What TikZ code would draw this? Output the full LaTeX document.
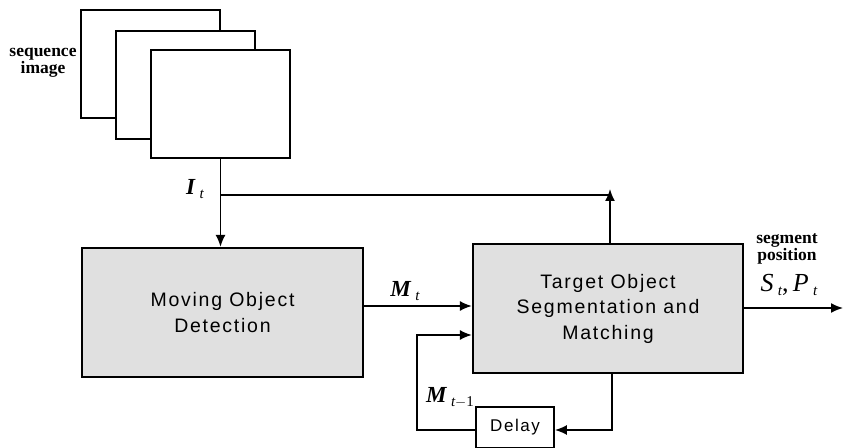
\documentclass[tikz,border=0pt]{standalone}
\usepackage{fontspec}
\setmainfont{Liberation Serif}
\newfontfamily\boxfont[LetterSpace=9]{Liberation Sans}
\usetikzlibrary{arrows.meta}
\tikzset{
  frame/.style={draw, line width=2bp, fill=white, minimum width=139bp, minimum height=108bp, inner sep=0pt},
  block/.style={draw, line width=2.2bp, fill=black!12, inner sep=0pt, align=center,
                font=\boxfont\fontsize{19.5bp}{25.5bp}\selectfont},
  delaybox/.style={draw, line width=1.8bp, fill=white, inner sep=0pt,
                   minimum width=78bp, minimum height=41bp,
                   font=\boxfont\fontsize{17bp}{18bp}\selectfont},
  wire/.style={line width=1.7bp},
  arr/.style={wire, -{Latex[length=12bp, width=10bp]}},
  note/.style={inner sep=0pt, align=center, font=\bfseries\fontsize{17.5bp}{17bp}\selectfont},
  sym/.style={inner sep=0pt, font=\fontsize{23bp}{24bp}\selectfont}
}
\newcommand{\sub}[1]{\,\raisebox{-4bp}{\fontsize{15bp}{16bp}\selectfont\itshape #1}}
\begin{document}
\begin{tikzpicture}[x=1bp, y=-1bp]
  \useasboundingbox (0,0) rectangle (844,448);

  % stack of input frames
  \node[frame] (f1) at (150.5,64.5) {};
  \node[frame] (f2) at (185.5,85) {};
  \node[frame] (f3) at (220.5,104.5) {};
  \node[note] (seq) at (43,63) {sequence\\image};

  % processing blocks
  \node[block, minimum width=281bp, minimum height=129bp] (mod) at (222.5,312.5)
    {Moving Object\\Detection};
  \node[block, minimum width=270bp, minimum height=129bp] (tom) at (608,308.5)
    {Target Object\\Segmentation and\\Matching};

  % helper points of the connectors
  \coordinate (up) at (610,195);
  \coordinate (mt) at (0,306);
  \coordinate (fb) at (612,430);
  \coordinate (fl) at (417,335);
  \coordinate (out) at (843,308);

  % labels
  \node[sym] (it) at (195,189) {\textbf{\textit{I}}\sub{t}};
  \node[sym] (mtl) at (405,291) {\textbf{\textit{M}}\sub{t}};
  \node[sym] (mt1) at (450,398) {\textbf{\textit{M}}\sub{t}\raisebox{-4bp}{\fontsize{15bp}{16bp}\selectfont $-$1}};
  \node[note] (segpos) at (787,249) {segment\\position};
  \node[sym, font=\fontsize{26bp}{27bp}\selectfont] (stpt) at (789,285)
    {\textit{S}\sub{t},\,\textit{P}\sub{t}};

  \node[delaybox] (delay) at (515,427.5) {Delay};

  % connectors
  \draw[arr] (f3.south) -- (f3.south |- mod.north);
  \draw[wire] (f3.south |- up) -- (up);
  \draw[arr] (tom.north -| up) -- ([yshift=6bp]up);
  \draw[arr] (mod.east |- mt) -- (tom.west |- mt);
  \draw[arr] (tom.south -| fb) -- (fb) -- (delay.east |- fb);
  \draw[arr] (delay.west |- fb) -| (fl) -- (tom.west |- fl);
  \draw[arr] (tom.east |- out) -- (out);
\end{tikzpicture}
\end{document}
